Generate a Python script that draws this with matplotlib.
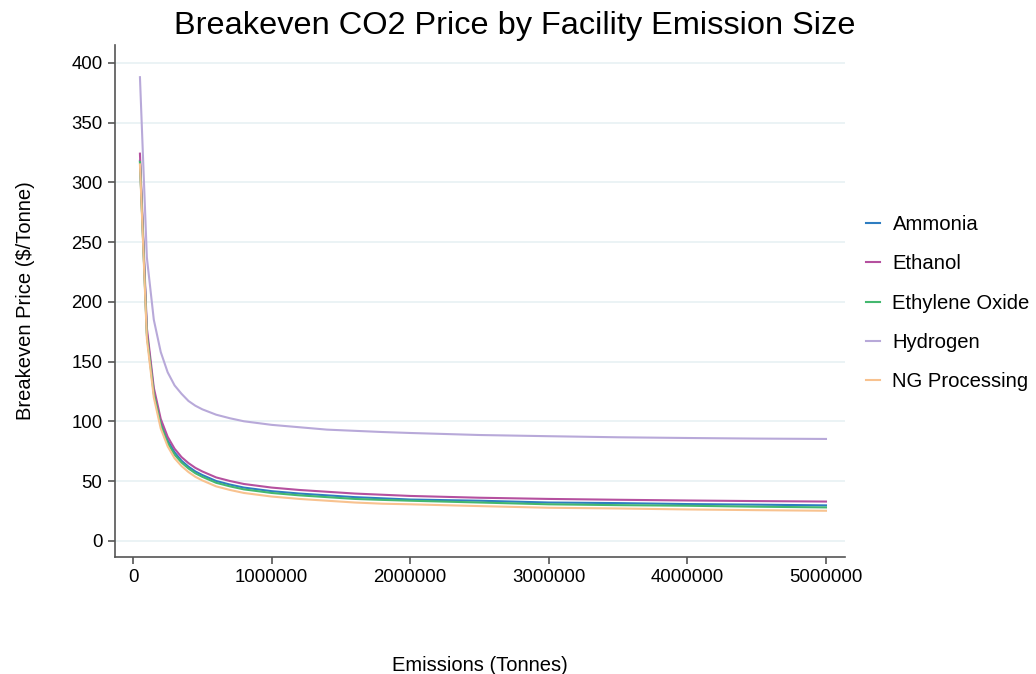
import matplotlib
matplotlib.use("Agg")
import matplotlib.pyplot as plt
from matplotlib.ticker import FuncFormatter

plt.rcParams['font.family'] = ['Liberation Sans', 'DejaVu Sans']

emissions = [50000, 100000, 150000, 200000, 250000, 300000, 350000, 400000, 450000, 500000,
             600000, 700000, 800000, 900000, 1000000, 1200000, 1400000, 1600000, 1800000,
             2000000, 2500000, 3000000, 3500000, 4000000, 4500000, 5000000]

ammonia = [318, 174, 125, 99, 84, 74, 67, 62, 58, 55, 50, 47, 44.5, 43, 41.5, 39.5, 38, 36.5,
           35.5, 34.5, 33.5, 32, 31.5, 30.7, 30.2, 29.6]
ethanol = [324, 178, 128, 102, 87, 77, 70, 65, 61, 58, 53, 50, 47.5, 46, 44.5, 42.5, 41, 39.5,
           38.5, 37.5, 36, 35, 34.3, 33.7, 33.2, 32.8]
ethylene_oxide = [317, 172, 123, 97, 82, 72, 65.5, 60.5, 56.5, 53.5, 48.5, 45.5, 43, 41.5, 40,
                  38, 36.5, 35, 34.2, 33.5, 32, 30.5, 29.8, 29.3, 28.5, 27.9]
hydrogen = [388, 237, 185, 158, 141, 130, 123, 117, 113, 110, 105.5, 102.5, 100, 98.5, 97, 95,
            93, 92, 91, 90.2, 88.5, 87.5, 86.6, 86, 85.5, 85.2]
ng_processing = [315, 169, 120, 94, 79, 69, 62.5, 57.5, 53.5, 50.5, 45.5, 42.5, 40, 38.5, 37,
                 35, 33.5, 32, 31, 30.5, 29, 27.6, 27, 26.2, 25.6, 25.1]

series_names = ["Ammonia", "Ethanol", "Ethylene Oxide", "Hydrogen", "NG Processing"]
series_values = [ammonia, ethanol, ethylene_oxide, hydrogen, ng_processing]
colors = ["#2e7dc1", "#b5509f", "#44b86f", "#b8a9d9", "#f8c28f"]

x_ticks = [0, 1000000, 2000000, 3000000, 4000000, 5000000]
y_ticks = [0, 50, 100, 150, 200, 250, 300, 350, 400]

fig = plt.figure(figsize=(10.36, 6.74), dpi=100)
ax = fig.add_axes([0.111, 0.1736, 0.7046, 0.7594])

for name, vals, c in zip(series_names, series_values, colors):
    ax.plot(emissions, vals, color=c, lw=1.5, label=name)

ax.set_xlim(-130000, 5137000)
ax.set_ylim(-13.6, 414.8)
ax.set_xticks(x_ticks)
ax.set_yticks(y_ticks)
ax.xaxis.set_major_formatter(FuncFormatter(lambda v, p: f"{int(v)}"))
ax.yaxis.grid(True, color="#e8f1f3", lw=1.2)
ax.set_axisbelow(True)
for s in ["top", "right"]:
    ax.spines[s].set_visible(False)
for s in ["left", "bottom"]:
    ax.spines[s].set_color("#555555")
    ax.spines[s].set_linewidth(1.2)
ax.tick_params(axis="both", direction="out", length=5, width=1.2, color="#555555",
               labelsize=13.4, labelcolor="black", pad=4)

fig.text(0.497, 0.962, "Breakeven CO2 Price by Facility Emission Size", fontsize=23.4,
         ha="center", va="center")
ax.set_ylabel("Breakeven Price ($/Tonne)", fontsize=14.5, labelpad=26)
ax.set_xlabel("Emissions (Tonnes)", fontsize=14.5, labelpad=50)

leg = ax.legend(loc="center left", bbox_to_anchor=(1.004, 0.496), frameon=False, fontsize=14.6,
                handlelength=0.7, handletextpad=0.6, labelspacing=1.0)

fig.savefig("out.png", dpi=100)
